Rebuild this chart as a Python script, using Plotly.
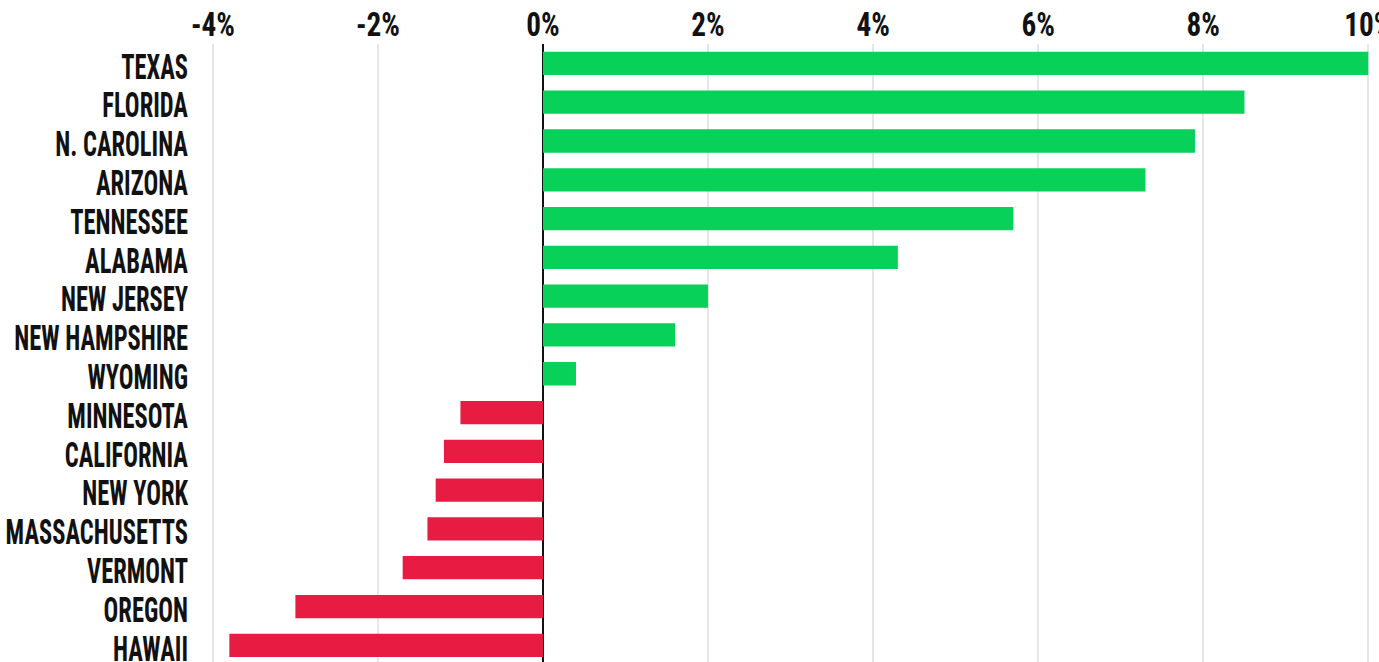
import plotly.graph_objects as go

# State population change, percent
states = ["TEXAS", "FLORIDA", "N. CAROLINA", "ARIZONA", "TENNESSEE", "ALABAMA",
          "NEW JERSEY", "NEW HAMPSHIRE", "WYOMING", "MINNESOTA", "CALIFORNIA",
          "NEW YORK", "MASSACHUSETTS", "VERMONT", "OREGON", "HAWAII"]
change_pct = [10.0, 8.5, 7.9, 7.3, 5.7, 4.3, 2.0, 1.6, 0.4,
              -1.0, -1.2, -1.3, -1.4, -1.7, -3.0, -3.8]
tick_vals = [-4, -2, 0, 2, 4, 6, 8, 10]
tick_text = ["-4%", "-2%", "0%", "2%", "4%", "6%", "8%", "10%"]

GREEN = "#08d15a"
RED = "#e81c43"
bar_colors = [GREEN if v >= 0 else RED for v in change_pct]

FONT_FAMILY = "Roboto Condensed, Roboto, sans-serif"
Y_FONT = dict(family=FONT_FAMILY, size=35, color="#111111", weight="bold")
X_FONT = dict(family=FONT_FAMILY, size=34, color="#111111", weight="bold")

fig = go.Figure(go.Bar(
    x=change_pct,
    y=states,
    orientation="h",
    marker=dict(color=bar_colors, line=dict(width=0)),
    width=0.6,
))

fig.update_layout(
    width=1379,
    height=662,
    margin=dict(l=198, r=0, t=44, b=0),
    paper_bgcolor="white",
    plot_bgcolor="white",
    showlegend=False,
    xaxis=dict(
        side="top",
        range=[-4.18, 10.13],
        tickmode="array",
        tickvals=tick_vals,
        ticktext=tick_text,
        tickfont=X_FONT,
        ticklabeloverflow="allow",
        showgrid=True,
        gridcolor="#e6e6e6",
        gridwidth=1.5,
        zeroline=True,
        zerolinecolor="#111111",
        zerolinewidth=1.5,
        ticks="",
        ticklabelstandoff=0,
        automargin=False,
        fixedrange=True,
    ),
    yaxis=dict(
        categoryorder="array",
        categoryarray=states,
        tickmode="array",
        tickvals=states,
        ticktext=states,
        range=[15.43, -0.5],
        tickfont=Y_FONT,
        ticklabeloverflow="allow",
        showgrid=False,
        ticks="",
        ticklabelstandoff=9,
        automargin=False,
        fixedrange=True,
    ),
)

# Narrow the tick labels horizontally (a tall, compressed headline look),
# scaling each label about its own anchor point; state names sit a touch low.
post = """
(function(){
  var gd = document.getElementById('{plot_id}');
  function squeezeSet(sel, s, dy){
    gd.querySelectorAll(sel).forEach(function(t){
      var base = (t.getAttribute('transform') || '')
        .replace(/ ?translate\\([^)]*\\) scale\\([^)]*\\) translate\\([^)]*\\)$/, '');
      var x = parseFloat(t.getAttribute('x')) || 0;
      t.setAttribute('transform', base + ' translate(' + x + ',' + dy + ') scale(' + s + ',1) translate(' + (-x) + ',0)');
    });
  }
  function squeeze(){
    squeezeSet('.ytick text', 0.70, 3);
    squeezeSet('.xtick text', 0.86, 0);
  }
  squeeze();
  setTimeout(squeeze, 50);
  if (gd && gd.on) { gd.on('plotly_afterplot', squeeze); }
})();
"""

fig.write_html("out.html", post_script=post, div_id="chart")
